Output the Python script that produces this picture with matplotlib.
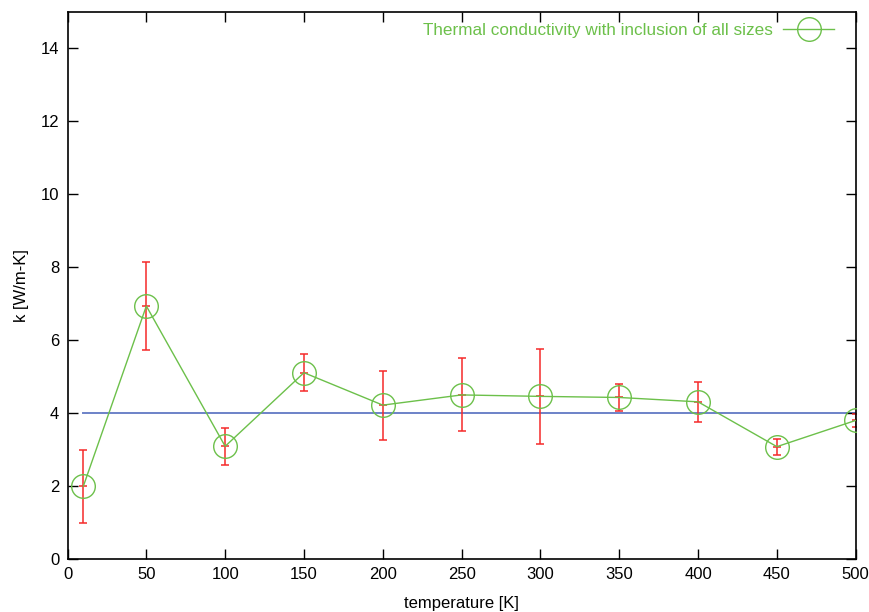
import matplotlib
matplotlib.use("Agg")
import matplotlib.pyplot as plt
import numpy as np

plt.rcParams['font.family'] = ['Liberation Sans', 'DejaVu Sans']

# Measured thermal conductivity vs temperature
temperature = [10, 50, 100, 150, 200, 250, 300, 350, 400, 450, 500]
conductivity = [1.98, 6.93, 3.08, 5.10, 4.21, 4.49, 4.45, 4.42, 4.30, 3.07, 3.79]
error = [1.01, 1.20, 0.50, 0.50, 0.95, 1.00, 1.31, 0.38, 0.55, 0.22, 0.17]

# Reference level
ref_x = [10, 500]
ref_y = [4, 4]

green = '#6cc04a'
red = '#f52a2a'
blue = '#6d82c8'

fig = plt.figure(figsize=(8.69, 6.12), dpi=100)
ax = fig.add_axes([0.0777, 0.0874, 0.907, 0.893])

ax.plot(ref_x, ref_y, color=blue, lw=1.4, zorder=1)

ax.errorbar(temperature, conductivity, yerr=error, fmt='none',
            ecolor=red, elinewidth=1.1, capsize=3.2, capthick=1.1, zorder=2)
ax.plot(temperature, conductivity, ls='none', marker='_', ms=6,
        mew=1.1, color=red, zorder=2)

ax.plot(temperature, conductivity, color=green, lw=1.0, marker='o',
        ms=17, mfc='none', mec=green, mew=1.0, zorder=3,
        label='Thermal conductivity with inclusion of all sizes')

ax.set_xlim(0, 500)
ax.set_ylim(0, 15)
ax.set_xticks(np.arange(0, 501, 50))
ax.set_yticks(np.arange(0, 15, 2))
ax.tick_params(direction='in', length=7, width=1, top=True, right=True,
               labelsize=12, pad=6)
for s in ax.spines.values():
    s.set_linewidth(1.2)

ax.set_xlabel('temperature [K]', fontsize=12, labelpad=10)
ax.set_ylabel('k [W/m-K]', fontsize=12, labelpad=8)

leg = ax.legend(loc='upper right', bbox_to_anchor=(0.99, 1.0055),
                frameon=False, markerfirst=False,
                fontsize=12.3, handlelength=3.0, handletextpad=0.6,
                borderaxespad=0.4, labelcolor=green)

fig.savefig('out.png', dpi=100)
